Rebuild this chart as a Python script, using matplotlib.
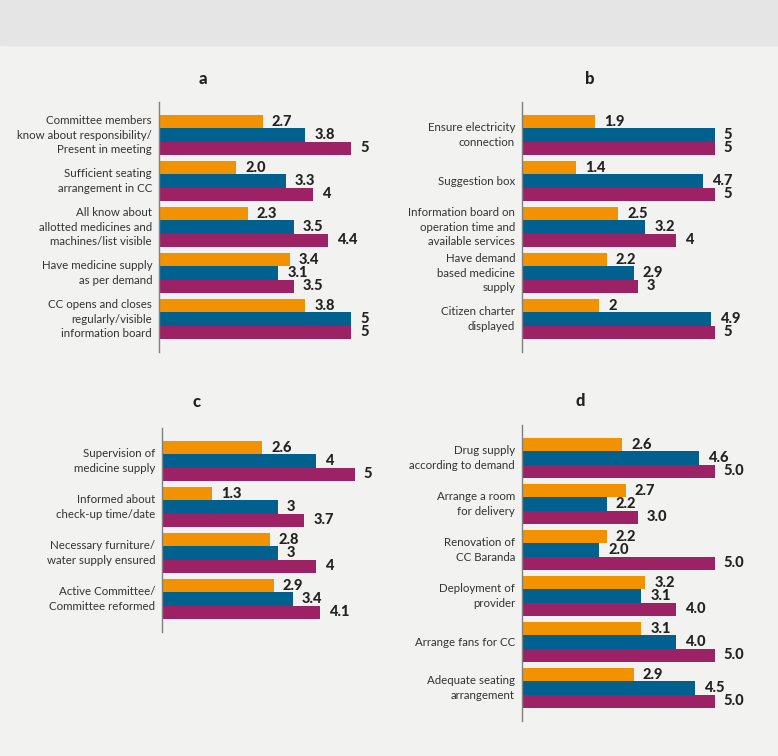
import numpy as np
import matplotlib.pyplot as plt

plt.rcParams['font.family'] = ['Lato', 'DejaVu Sans']

# panel a
a_labels = ["Committee members\nknow about responsibility/\nPresent in meeting",
            "Sufficient seating\narrangement in CC",
            "All know about\nallotted medicines and\nmachines/list visible",
            "Have medicine supply\nas per demand",
            "CC opens and closes\nregularly/visible\ninformation board"]
a_orange = [2.7, 2.0, 2.3, 3.4, 3.8]
a_blue = [3.8, 3.3, 3.5, 3.1, 5]
a_magenta = [5, 4, 4.4, 3.5, 5]

# panel b
b_labels = ["Ensure electricity\nconnection",
            "Suggestion box",
            "Information board on\noperation time and\navailable services",
            "Have demand\nbased medicine\nsupply",
            "Citizen charter\ndisplayed"]
b_orange = [1.9, 1.4, 2.5, 2.2, 2]
b_blue = [5, 4.7, 3.2, 2.9, 4.9]
b_magenta = [5, 5, 4, 3, 5]

# panel c
c_labels = ["Supervision of\nmedicine supply",
            "Informed about\ncheck-up time/date",
            "Necessary furniture/\nwater supply ensured",
            "Active Committee/\nCommittee reformed"]
c_orange = [2.6, 1.3, 2.8, 2.9]
c_blue = [4, 3, 3, 3.4]
c_magenta = [5, 3.7, 4, 4.1]

# panel d
d_labels = ["Drug supply\naccording to demand",
            "Arrange a room\nfor delivery",
            "Renovation of\nCC Baranda",
            "Deployment of\nprovider",
            "Arrange fans for CC",
            "Adequate seating\narrangement"]
d_orange = [2.6, 2.7, 2.2, 3.2, 3.1, 2.9]
d_blue = [4.6, 2.2, 2.0, 3.1, 4.0, 4.5]
d_magenta = [5.0, 3.0, 5.0, 4.0, 5.0, 5.0]

ORANGE = '#f39200'
BLUE = '#00618e'
MAGENTA = '#9c2265'
W, H = 778, 756
PX_UNIT = 38.5   # pixels per value unit
PITCH = 46       # pixels per group
MARGIN = 0.72    # group units above first / below last group

fig = plt.figure(figsize=(W / 100, H / 100), dpi=100, facecolor='#f2f2f1')
fig.patches.append(plt.Rectangle((0, 1 - 45 / H), 1, 45 / H, transform=fig.transFigure,
                                 color='#e5e5e5', zorder=0))

# (title, labels, series, number formats, axis x px, first group centre px, title pos px)
panels = [
    ("a", a_labels, (a_orange, a_blue, a_magenta), ("{:.1f}", "{:g}", "{:g}"), 159, 135, (203, 79)),
    ("b", b_labels, (b_orange, b_blue, b_magenta), ("{:g}", "{:g}", "{:g}"), 522, 135, (590, 79)),
    ("c", c_labels, (c_orange, c_blue, c_magenta), ("{:g}", "{:g}", "{:g}"), 162, 461, (197, 402)),
    ("d", d_labels, (d_orange, d_blue, d_magenta), ("{:.1f}", "{:.1f}", "{:.1f}"), 522, 458, (580, 401)),
]

bh = 13.4 / PITCH
for title, labels, series, fmts, x0, yc, tpos in panels:
    n = len(labels)
    top = yc - MARGIN * PITCH
    height = (n - 1 + 2 * MARGIN) * PITCH
    width = 6 * PX_UNIT
    ax = fig.add_axes([x0 / W, 1 - (top + height) / H, width / W, height / H])
    ax.patch.set_visible(False)
    y = np.arange(n)
    for k, (vals, col, fmt) in enumerate(zip(series, (ORANGE, BLUE, MAGENTA), fmts)):
        yy = y + (k - 1) * bh
        ax.barh(yy, vals, height=bh, color=col)
        for v, yv in zip(vals, yy):
            ax.annotate(fmt.format(v), (v, yv), xytext=(6.5, 0), textcoords='offset points',
                        va='center', ha='left', fontsize=10.5, fontweight='black', color='#222222')
    ax.set_xlim(0, 6)
    ax.set_ylim(n - 1 + MARGIN, -MARGIN)
    for s in ['top', 'right', 'bottom']:
        ax.spines[s].set_visible(False)
    ax.spines['left'].set_color('#808080')
    ax.spines['left'].set_linewidth(1)
    ax.set_xticks([])
    ax.set_yticks(y)
    ax.set_yticklabels(labels, fontsize=8.3, color='#333333', va='center', linespacing=1.38)
    ax.tick_params(axis='y', length=0, pad=5)
    fig.text(tpos[0] / W, 1 - tpos[1] / H, title, ha='center', va='center',
             fontsize=12, fontweight='black', color='#222222')

fig.savefig("out.png", dpi=100, facecolor=fig.get_facecolor())
